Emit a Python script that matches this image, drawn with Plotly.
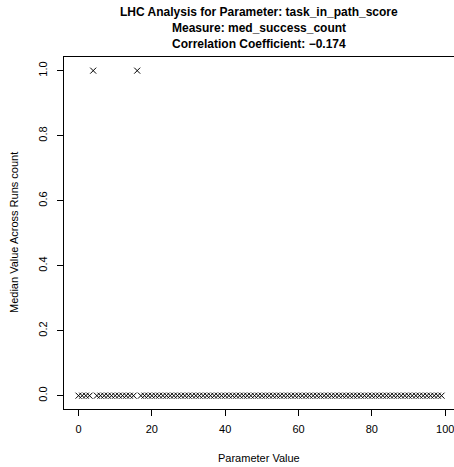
import plotly.graph_objects as go

# Parameter values (x) and median success count (y)
x_zero = [0, 1, 2, 3, 5, 6, 7, 8, 9, 10, 11, 12, 13, 14, 15, 17, 18, 19, 20,
          21, 22, 23, 24, 25, 26, 27, 28, 29, 30, 31, 32, 33, 34, 35, 36, 37, 38,
          39, 40, 41, 42, 43, 44, 45, 46, 47, 48, 49, 50, 51, 52, 53, 54, 55, 56,
          57, 58, 59, 60, 61, 62, 63, 64, 65, 66, 67, 68, 69, 70, 71, 72, 73, 74,
          75, 76, 77, 78, 79, 80, 81, 82, 83, 84, 85, 86, 87, 88, 89, 90, 91, 92,
          93, 94, 95, 96, 97, 98, 99]
y_zero = [0] * len(x_zero)
x_one = [4, 16]
y_one = [1, 1]

x_vals = x_zero + x_one
y_vals = y_zero + y_one

x_ticks = [0, 20, 40, 60, 80, 100]
y_ticks = [0.0, 0.2, 0.4, 0.6, 0.8, 1.0]
y_tick_text = ["0.0", "0.2", "0.4", "0.6", "0.8", "1.0"]

title_lines = ["LHC Analysis for Parameter: task_in_path_score",
               "Measure: med_success_count",
               "Correlation Coefficient: \u22120.174"]

FONT = "Liberation Sans, Arial, Helvetica, sans-serif"

fig = go.Figure()
fig.add_trace(go.Scatter(
    x=x_vals, y=y_vals, mode="markers",
    marker=dict(symbol="x-thin", size=6, color="black",
                line=dict(color="black", width=1)),
    showlegend=False, hoverinfo="x+y"))

W, H = 454, 467
L, R, T, B = 64, 0, 57, 58

fig.update_layout(
    width=W, height=H,
    margin=dict(l=L, r=R, t=T, b=B),
    plot_bgcolor="white", paper_bgcolor="white",
    font=dict(family=FONT, color="black", size=11),
    xaxis=dict(range=[-3.96, 102.4], tickvals=x_ticks, ticks="outside",
               ticklen=6, tickcolor="black", tickwidth=1,
               ticklabelstandoff=4, ticklabeloverflow="allow",
               showline=True, linecolor="black", linewidth=1, mirror=True,
               showgrid=False, zeroline=False,
               tickfont=dict(size=11, family=FONT, color="black")),
    yaxis=dict(range=[-0.041, 1.042], tickvals=y_ticks, ticktext=y_tick_text,
               ticks="outside", ticklen=6, tickcolor="black", tickwidth=1,
               tickangle=-90, ticklabelstandoff=6,
               showline=True, linecolor="black", linewidth=1, mirror=False,
               showgrid=False, zeroline=False,
               tickfont=dict(size=11, family=FONT, color="black")),
)

annotations = []
title_y = [12, 28, 44]
for line, ypix in zip(title_lines, title_y):
    annotations.append(dict(
        text="<b>" + line + "</b>", xref="paper", yref="paper",
        x=0.5, y=(H - B - ypix) / (H - T - B),
        xanchor="center", yanchor="middle", showarrow=False,
        font=dict(size=12, family=FONT, color="black")))
annotations.append(dict(
    text="Parameter Value", xref="paper", yref="paper",
    x=0.5, y=(H - B - 458) / (H - T - B), xanchor="center", yanchor="middle",
    showarrow=False, font=dict(size=11, family=FONT, color="black")))
annotations.append(dict(
    text="Median Value Across Runs count", xref="paper", yref="paper",
    x=(14 - L) / (W - L - R), y=0.5, xanchor="center", yanchor="middle",
    textangle=-90, showarrow=False,
    font=dict(size=11, family=FONT, color="black")))
fig.update_layout(annotations=annotations)

fig.write_html("out.html",
               config={"displayModeBar": False},
               post_script="document.body.style.margin='0';"
                           "document.body.style.padding='0';"
                           "document.body.style.overflow='hidden';")
